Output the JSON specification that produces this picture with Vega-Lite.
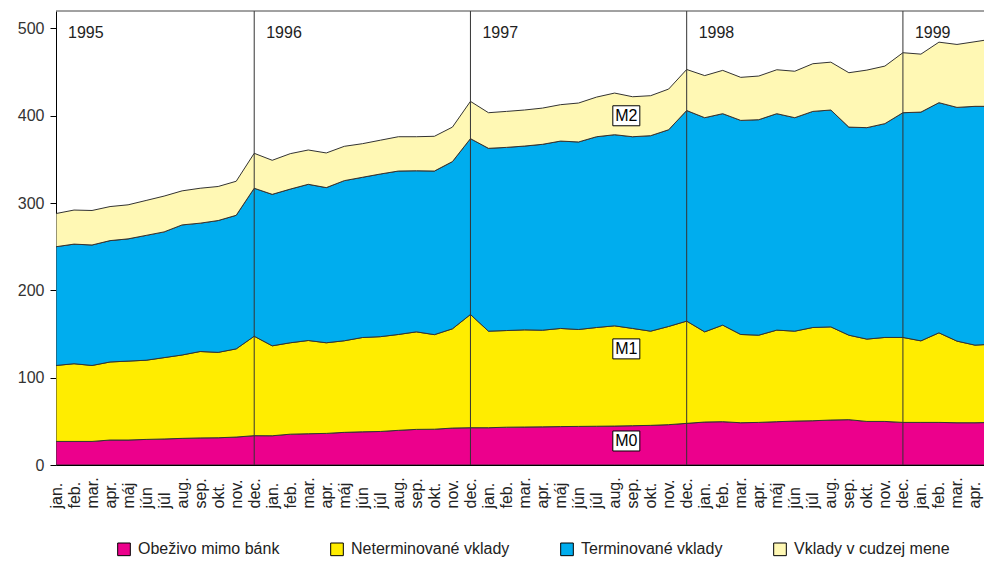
{
  "$schema": "https://vega.github.io/schema/vega-lite/v6.json",
  "width": 928,
  "height": 454,
  "autosize": "none",
  "padding": {"left": 56, "top": 11, "right": 0, "bottom": 99},
  "background": "white",
  "config": {
    "view": {"stroke": null},
    "font": "Liberation Sans",
    "axisX": {"domainColor": "#000", "domainWidth": 1, "ticks": false, "labelFontSize": 16, "labelColor": "#222", "labelAngle": 270, "labelAlign": "left", "labelBaseline": "middle", "labelPadding": 43, "grid": false, "labelOverlap": false, "labelBound": false},
    "axisY": {"domainColor": "#000", "domainWidth": 1, "tickColor": "#000", "tickSize": 6, "labelFontSize": 16, "labelColor": "#333", "labelPadding": 6, "grid": false}
  },
  "datasets": {
    "money": [
      {"m":0,"o":27,"n":87,"t":136,"v":38},
      {"m":1,"o":27,"n":89,"t":137,"v":39},
      {"m":2,"o":27,"n":87,"t":138,"v":39.5},
      {"m":3,"o":28.6,"n":89.4,"t":139,"v":39},
      {"m":4,"o":28.6,"n":90.4,"t":140,"v":39},
      {"m":5,"o":29.3,"n":90.7,"t":143,"v":40},
      {"m":6,"o":29.8,"n":93.2,"t":144,"v":41},
      {"m":7,"o":30.5,"n":95.5,"t":149,"v":39},
      {"m":8,"o":31,"n":99,"t":147,"v":40},
      {"m":9,"o":31.2,"n":97.8,"t":151,"v":39},
      {"m":10,"o":32,"n":101,"t":153,"v":39},
      {"m":11,"o":33.6,"n":113.9,"t":169.5,"v":40},
      {"m":12,"o":33.5,"n":103,"t":173.5,"v":39},
      {"m":13,"o":35.3,"n":104.7,"t":176,"v":40.6},
      {"m":14,"o":35.8,"n":106.8,"t":178.9,"v":39.3},
      {"m":15,"o":36.2,"n":103.8,"t":177.7,"v":39.7},
      {"m":16,"o":37.4,"n":104.9,"t":183.4,"v":39.3},
      {"m":17,"o":38,"n":108,"t":183.5,"v":38.5},
      {"m":18,"o":38.4,"n":108.6,"t":186.3,"v":38.7},
      {"m":19,"o":39.7,"n":109.8,"t":187.2,"v":39.3},
      {"m":20,"o":40.8,"n":111.7,"t":184.5,"v":39},
      {"m":21,"o":41,"n":108.3,"t":187.4,"v":39.8},
      {"m":22,"o":42.3,"n":113.7,"t":191.5,"v":39.5},
      {"m":23,"o":42.7,"n":129.7,"t":201.4,"v":42.7},
      {"m":24,"o":42.7,"n":110.6,"t":209.4,"v":40.8},
      {"m":25,"o":43.3,"n":110.7,"t":209.8,"v":41.2},
      {"m":26,"o":43.5,"n":111.3,"t":210.5,"v":41.3},
      {"m":27,"o":43.7,"n":110.7,"t":212.9,"v":41.5},
      {"m":28,"o":44,"n":112.4,"t":214.6,"v":41.7},
      {"m":29,"o":44.2,"n":111,"t":214.8,"v":44.6},
      {"m":30,"o":44.4,"n":113.1,"t":218.5,"v":45.4},
      {"m":31,"o":44.6,"n":114.8,"t":218.9,"v":47.7},
      {"m":32,"o":45,"n":111.4,"t":219.6,"v":45.8},
      {"m":33,"o":45.4,"n":107.9,"t":223.9,"v":45.8},
      {"m":34,"o":46.2,"n":112.5,"t":225.3,"v":46.6},
      {"m":35,"o":47.7,"n":117.1,"t":241.2,"v":47},
      {"m":36,"o":49.2,"n":103.3,"t":245.3,"v":48.2},
      {"m":37,"o":49.6,"n":110.6,"t":242.2,"v":49.6},
      {"m":38,"o":48.4,"n":101.1,"t":245.2,"v":49.3},
      {"m":39,"o":48.8,"n":99.9,"t":246.8,"v":50},
      {"m":40,"o":49.6,"n":104.9,"t":247.9,"v":50.3},
      {"m":41,"o":50.3,"n":103,"t":244.5,"v":53.2},
      {"m":42,"o":50.7,"n":106.8,"t":247.5,"v":54.6},
      {"m":43,"o":51.5,"n":106.7,"t":248.4,"v":54.8},
      {"m":44,"o":51.9,"n":96.8,"t":238.3,"v":62.3},
      {"m":45,"o":49.9,"n":94.3,"t":242.2,"v":65.9},
      {"m":46,"o":49.9,"n":96.2,"t":244.9,"v":65.9},
      {"m":47,"o":48.8,"n":97.3,"t":257.4,"v":68.7},
      {"m":48,"o":48.8,"n":93.4,"t":262,"v":66.4},
      {"m":49,"o":48.8,"n":102.6,"t":263.6,"v":69.3},
      {"m":50,"o":48.4,"n":93.5,"t":267.7,"v":72.1},
      {"m":51,"o":48.4,"n":88.9,"t":273.5,"v":74},
      {"m":52,"o":48.8,"n":89.6,"t":272.4,"v":77.2}
    ],
    "series": [
      {"key":"o","name":"Obeživo mimo bánk","rank":1},
      {"key":"n","name":"Neterminované vklady","rank":2},
      {"key":"t","name":"Terminované vklady","rank":3},
      {"key":"v","name":"Vklady v cudzej mene","rank":4}
    ],
    "dividers": [{"m":11},{"m":23},{"m":35},{"m":47}],
    "years": [
      {"m":0,"yr":"1995"},
      {"m":11,"yr":"1996"},
      {"m":23,"yr":"1997"},
      {"m":35,"yr":"1998"},
      {"m":47,"yr":"1999"}
    ],
    "boxes": [
      {"m":31.65,"y":400,"lab":"M2"},
      {"m":31.65,"y":133,"lab":"M1"},
      {"m":31.65,"y":27.5,"lab":"M0"}
    ]
  },
  "layer": [
    {
      "data": {"name": "money"},
      "transform": [
        {"fold": ["o","n","t","v"], "as": ["key","value"]},
        {"lookup": "key", "from": {"data": {"name": "series"}, "key": "key", "fields": ["name","rank"]}}
      ],
      "mark": {"type": "area", "stroke": "#333", "strokeWidth": 1, "clip": true, "opacity": 1},
      "encoding": {
        "x": {"field": "m", "type": "quantitative", "title": null,
              "scale": {"domain": [0, 51.5], "nice": false, "zero": false},
              "axis": {"values": [0,1,2,3,4,5,6,7,8,9,10,11,12,13,14,15,16,17,18,19,20,21,22,23,24,25,26,27,28,29,30,31,32,33,34,35,36,37,38,39,40,41,42,43,44,45,46,47,48,49,50,51],
                       "labelOverlap": false, "labelFlush": false,
                       "labelExpr": "['jan.','feb.','mar.','apr.','máj','jún','júl','aug.','sep.','okt.','nov.','dec.'][datum.value % 12]"}},
        "y": {"field": "value", "type": "quantitative", "stack": "zero", "title": null,
              "scale": {"domain": [0, 520], "nice": false},
              "axis": {"values": [0,100,200,300,400,500]}},
        "color": {"field": "name", "type": "nominal",
                  "scale": {"domain": ["Obeživo mimo bánk","Neterminované vklady","Terminované vklady","Vklady v cudzej mene"],
                            "range": ["#EC008C","#FFED00","#00ADEE","#FFF8B4"]},
                  "legend": {"orient": "none", "legendX": 60, "legendY": 530, "direction": "horizontal", "columns": 4, "columnPadding": 48,
                             "symbolType": "square", "symbolSize": 160, "symbolStrokeColor": "#000", "symbolStrokeWidth": 1, "symbolOpacity": 1,
                             "labelFontSize": 16, "labelColor": "#222", "labelOffset": 6, "title": null}},
        "order": {"field": "rank", "type": "quantitative"}
      }
    },
    {
      "data": {"name": "dividers"},
      "mark": {"type": "rule", "color": "#333", "strokeWidth": 1},
      "encoding": {"x": {"field": "m", "type": "quantitative", "title": null,
              "axis": {"values": [0,1,2,3,4,5,6,7,8,9,10,11,12,13,14,15,16,17,18,19,20,21,22,23,24,25,26,27,28,29,30,31,32,33,34,35,36,37,38,39,40,41,42,43,44,45,46,47,48,49,50,51],
                       "labelOverlap": false, "labelFlush": false,
                       "labelExpr": "['jan.','feb.','mar.','apr.','máj','jún','júl','aug.','sep.','okt.','nov.','dec.'][datum.value % 12]"}}}
    },
    {
      "data": {"values": [{}]},
      "mark": {"type": "rule", "color": "#444", "strokeWidth": 1},
      "encoding": {"y": {"datum": 520}}
    },
    {
      "data": {"name": "years"},
      "mark": {"type": "text", "align": "left", "baseline": "middle", "dx": 12, "fontSize": 16, "color": "#222"},
      "encoding": {
        "x": {"field": "m", "type": "quantitative", "title": null,
              "axis": {"values": [0,1,2,3,4,5,6,7,8,9,10,11,12,13,14,15,16,17,18,19,20,21,22,23,24,25,26,27,28,29,30,31,32,33,34,35,36,37,38,39,40,41,42,43,44,45,46,47,48,49,50,51],
                       "labelOverlap": false, "labelFlush": false,
                       "labelExpr": "['jan.','feb.','mar.','apr.','máj','jún','júl','aug.','sep.','okt.','nov.','dec.'][datum.value % 12]"}},
        "y": {"datum": 495},
        "text": {"field": "yr"}
      }
    },
    {
      "data": {"name": "boxes"},
      "mark": {"type": "point", "shape": "M-1.35,-1H1.35V1H-1.35Z", "size": 400, "filled": true, "fill": "white", "stroke": "#000", "strokeWidth": 1, "opacity": 1},
      "encoding": {
        "x": {"field": "m", "type": "quantitative", "title": null,
              "axis": {"values": [0,1,2,3,4,5,6,7,8,9,10,11,12,13,14,15,16,17,18,19,20,21,22,23,24,25,26,27,28,29,30,31,32,33,34,35,36,37,38,39,40,41,42,43,44,45,46,47,48,49,50,51],
                       "labelOverlap": false, "labelFlush": false,
                       "labelExpr": "['jan.','feb.','mar.','apr.','máj','jún','júl','aug.','sep.','okt.','nov.','dec.'][datum.value % 12]"}},
        "y": {"field": "y", "type": "quantitative", "title": null}
      }
    },
    {
      "data": {"name": "boxes"},
      "mark": {"type": "text", "align": "center", "baseline": "middle", "fontSize": 16, "color": "#000"},
      "encoding": {
        "x": {"field": "m", "type": "quantitative", "title": null,
              "axis": {"values": [0,1,2,3,4,5,6,7,8,9,10,11,12,13,14,15,16,17,18,19,20,21,22,23,24,25,26,27,28,29,30,31,32,33,34,35,36,37,38,39,40,41,42,43,44,45,46,47,48,49,50,51],
                       "labelOverlap": false, "labelFlush": false,
                       "labelExpr": "['jan.','feb.','mar.','apr.','máj','jún','júl','aug.','sep.','okt.','nov.','dec.'][datum.value % 12]"}},
        "y": {"field": "y", "type": "quantitative", "title": null},
        "text": {"field": "lab"}
      }
    }
  ]
}
